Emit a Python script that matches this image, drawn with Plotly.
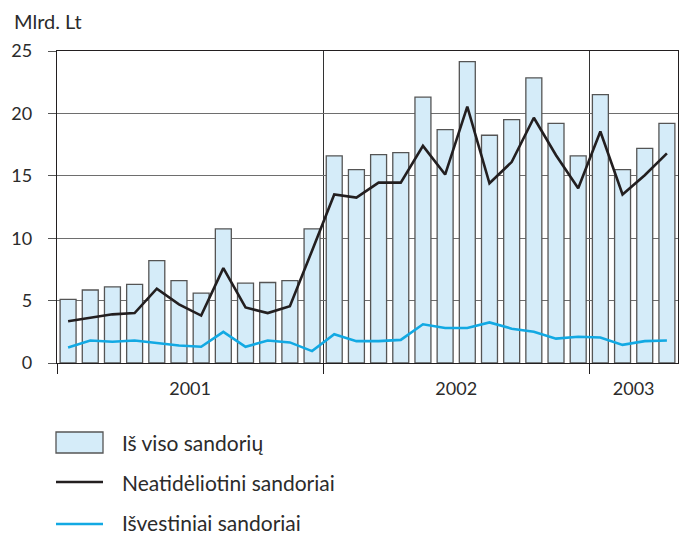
import plotly.graph_objects as go

months = list(range(28))
year_labels = ["2001", "2002", "2003"]
year_centers = [5.5, 17.5, 25.5]
year_bounds = [-0.5, 11.5, 23.5]

total = [5.1, 5.85, 6.1, 6.3, 8.2, 6.6, 5.6, 10.75, 6.4, 6.45, 6.6, 10.75,
         16.6, 15.5, 16.7, 16.85, 21.3, 18.7, 24.15, 18.25, 19.5, 22.85, 19.2, 16.6,
         21.5, 15.5, 17.2, 19.2]
spot = [3.35, 3.6, 3.9, 4.0, 5.95, 4.7, 3.8, 7.6, 4.45, 4.0, 4.55, 9.0,
        13.5, 13.25, 14.45, 14.45, 17.4, 15.1, 20.55, 14.4, 16.1, 19.65, 16.65, 14.0,
        18.55, 13.5, 15.05, 16.8]
deriv = [1.25, 1.8, 1.7, 1.8, 1.6, 1.4, 1.3, 2.5, 1.3, 1.8, 1.65, 0.95,
         2.3, 1.75, 1.75, 1.85, 3.1, 2.8, 2.8, 3.25, 2.75, 2.5, 1.95, 2.1,
         2.05, 1.45, 1.75, 1.8]

names = ["Iš viso sandorių", "Neatidėliotini sandoriai", "Išvestiniai sandoriai"]
bar_fill = "#d5ecf9"
bar_edge = "#555555"
black = "#231f20"
blue = "#12a9e3"

FONT = "Lato"

fig = go.Figure()
fig.add_trace(go.Bar(x=months, y=total, name=names[0], width=0.72,
                     marker=dict(color=bar_fill, line=dict(color=bar_edge, width=1.3)),
                     showlegend=False))
fig.add_trace(go.Scatter(x=months, y=spot, name=names[1], mode="lines",
                         line=dict(color=black, width=2.6), showlegend=False))
fig.add_trace(go.Scatter(x=months, y=deriv, name=names[2], mode="lines",
                         line=dict(color=blue, width=2.6), showlegend=False))

fig.update_layout(
    width=685, height=534,
    margin=dict(l=57, r=7, t=51, b=171),
    paper_bgcolor="white", plot_bgcolor="white",
    font=dict(family=FONT, size=18, color="#2b2b2b"),
    bargap=0.28,
)
fig.update_xaxes(
    range=[-0.5, 27.5],
    tickmode="array", tickvals=year_centers, ticktext=year_labels,
    ticks="", showgrid=False, ticklabelstandoff=9,
    showline=True, linecolor="#231f20", linewidth=1.3, mirror=True,
    minor=dict(tickmode="array", tickvals=year_bounds, ticks="outside",
               ticklen=10, tickcolor="#231f20", tickwidth=1,
               showgrid=True, gridcolor="#333333", gridwidth=1),
    zeroline=False,
)
fig.update_yaxes(
    range=[0, 25], tickmode="linear", tick0=0, dtick=5,
    ticks="outside", ticklen=8, tickcolor="#555555", tickwidth=1,
    ticklabelstandoff=12,
    showgrid=True, gridcolor="#6e6e6e", gridwidth=1,
    showline=True, linecolor="#231f20", linewidth=1.3, mirror=True,
    zeroline=False,
)

# axis unit label
fig.add_annotation(text="Mlrd. Lt", xref="paper", yref="paper",
                   x=(12 - 57) / 621, y=1 + (51 - 21) / 312, xanchor="left",
                   yanchor="middle", showarrow=False, font=dict(size=20))

# manual legend
def px_x(p):
    return (p - 57) / 621

def px_y(p):
    return (363 - p) / 312

fig.add_shape(type="rect", xref="paper", yref="paper",
              x0=px_x(56), x1=px_x(103), y0=px_y(453), y1=px_y(432),
              fillcolor=bar_fill, line=dict(color=bar_edge, width=1.3))
fig.add_shape(type="line", xref="paper", yref="paper",
              x0=px_x(56), x1=px_x(103), y0=px_y(482), y1=px_y(482),
              line=dict(color=black, width=2.6))
fig.add_shape(type="line", xref="paper", yref="paper",
              x0=px_x(56), x1=px_x(103), y0=px_y(524), y1=px_y(524),
              line=dict(color=blue, width=2.6))
for nm, yy in zip(names, [442, 482, 522]):
    fig.add_annotation(text=nm, xref="paper", yref="paper", x=px_x(120), y=px_y(yy),
                       xanchor="left", yanchor="middle", showarrow=False,
                       font=dict(size=21))

fig.write_html("out.html", config={"displayModeBar": False},
               post_script="document.body.style.margin='0';document.body.style.padding='0';")
